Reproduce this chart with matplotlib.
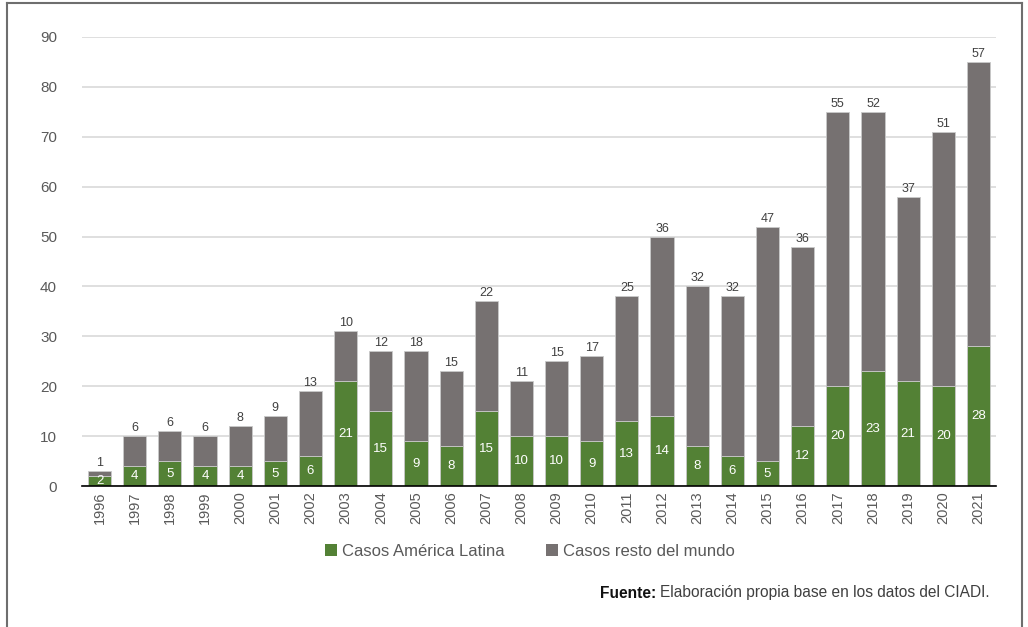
import matplotlib
matplotlib.use("Agg")
import matplotlib.pyplot as plt
from matplotlib.lines import Line2D
from matplotlib.patches import Patch
import numpy as np

plt.rcParams['font.family'] = ['Liberation Sans', 'DejaVu Sans']

years = [str(y) for y in range(1996, 2022)]
latam = [2, 4, 5, 4, 4, 5, 6, 21, 15, 9, 8, 15, 10, 10, 9, 13, 14, 8, 6, 5, 12, 20, 23, 21, 20, 28]
resto = [1, 6, 6, 6, 8, 9, 13, 10, 12, 18, 15, 22, 11, 15, 17, 25, 36, 32, 32, 47, 36, 55, 52, 37, 51, 57]

green = '#538135'
gray = '#767171'

W, H = 1028, 627
fig = plt.figure(figsize=(W / 100, H / 100), dpi=100)
ax = fig.add_axes([82 / W, 1 - 486 / H, (996 - 82) / W, (486 - 37) / H])

x = np.arange(len(years))
w = 0.66
ax.bar(x, latam, width=w, color=green, edgecolor='#c9c9c9', linewidth=0.6, zorder=3)
ax.bar(x, resto, width=w, bottom=latam, color=gray, edgecolor='#c9c9c9', linewidth=0.6, zorder=3)

for xi, a, b in zip(x, latam, resto):
    ax.text(xi, a / 2, str(a), ha='center', va='center', color='white', fontsize=9.5, zorder=4)
    ax.text(xi, a + b + 0.4, str(b), ha='center', va='bottom', color='#404040', fontsize=9, zorder=4)

ax.set_xlim(-0.5, len(years) - 0.5)
ax.set_ylim(0, 90)
ax.set_yticks(range(0, 91, 10))
ax.set_xticks(x)
ax.set_xticklabels(years, rotation=90, fontsize=10.5, color='#595959')
ax.tick_params(axis='y', labelsize=11, colors='#595959', length=0, pad=18)
ax.tick_params(axis='x', length=0, pad=4)
ax.yaxis.grid(True, color='#d9d9d9', linewidth=1.2, zorder=0)
ax.set_axisbelow(True)
for s in ['top', 'right', 'left']:
    ax.spines[s].set_visible(False)
ax.spines['bottom'].set_color('black')
ax.spines['bottom'].set_linewidth(1.2)
ax.spines['bottom'].set_zorder(5)

handles = [Patch(facecolor=green, label='Casos América Latina'),
           Patch(facecolor=gray, label='Casos resto del mundo')]
fig.legend(handles=handles, loc='center', bbox_to_anchor=(530 / W, 1 - 551 / H),
           ncol=2, frameon=False, fontsize=12, handlelength=0.7, handleheight=0.7,
           handletextpad=0.3, columnspacing=2.5, labelcolor='#595959')

# source note, right-aligned, with a bold lead-in
foot_y = 1 - 593 / H
foot = fig.text(990 / W, foot_y, 'Elaboración propia base en los datos del CIADI.',
                ha='right', va='center', fontsize=11.2, color='#404040')
fig.canvas.draw()
bb = foot.get_window_extent()
fig.text((bb.x0 - 4) / W, foot_y, 'Fuente:', ha='right', va='center', fontsize=11.2,
         color='#111111', fontweight='bold')

# frame around the figure (left, top, right)
fc = '#6e6e6e'
fig.add_artist(Line2D([7 / W, 7 / W], [0, 1 - 3 / H], color=fc, linewidth=1.5))
fig.add_artist(Line2D([7 / W, 1022 / W], [1 - 3 / H, 1 - 3 / H], color=fc, linewidth=1.5))
fig.add_artist(Line2D([1022 / W, 1022 / W], [0, 1 - 3 / H], color=fc, linewidth=1.5))

fig.savefig('out.png', dpi=100)
